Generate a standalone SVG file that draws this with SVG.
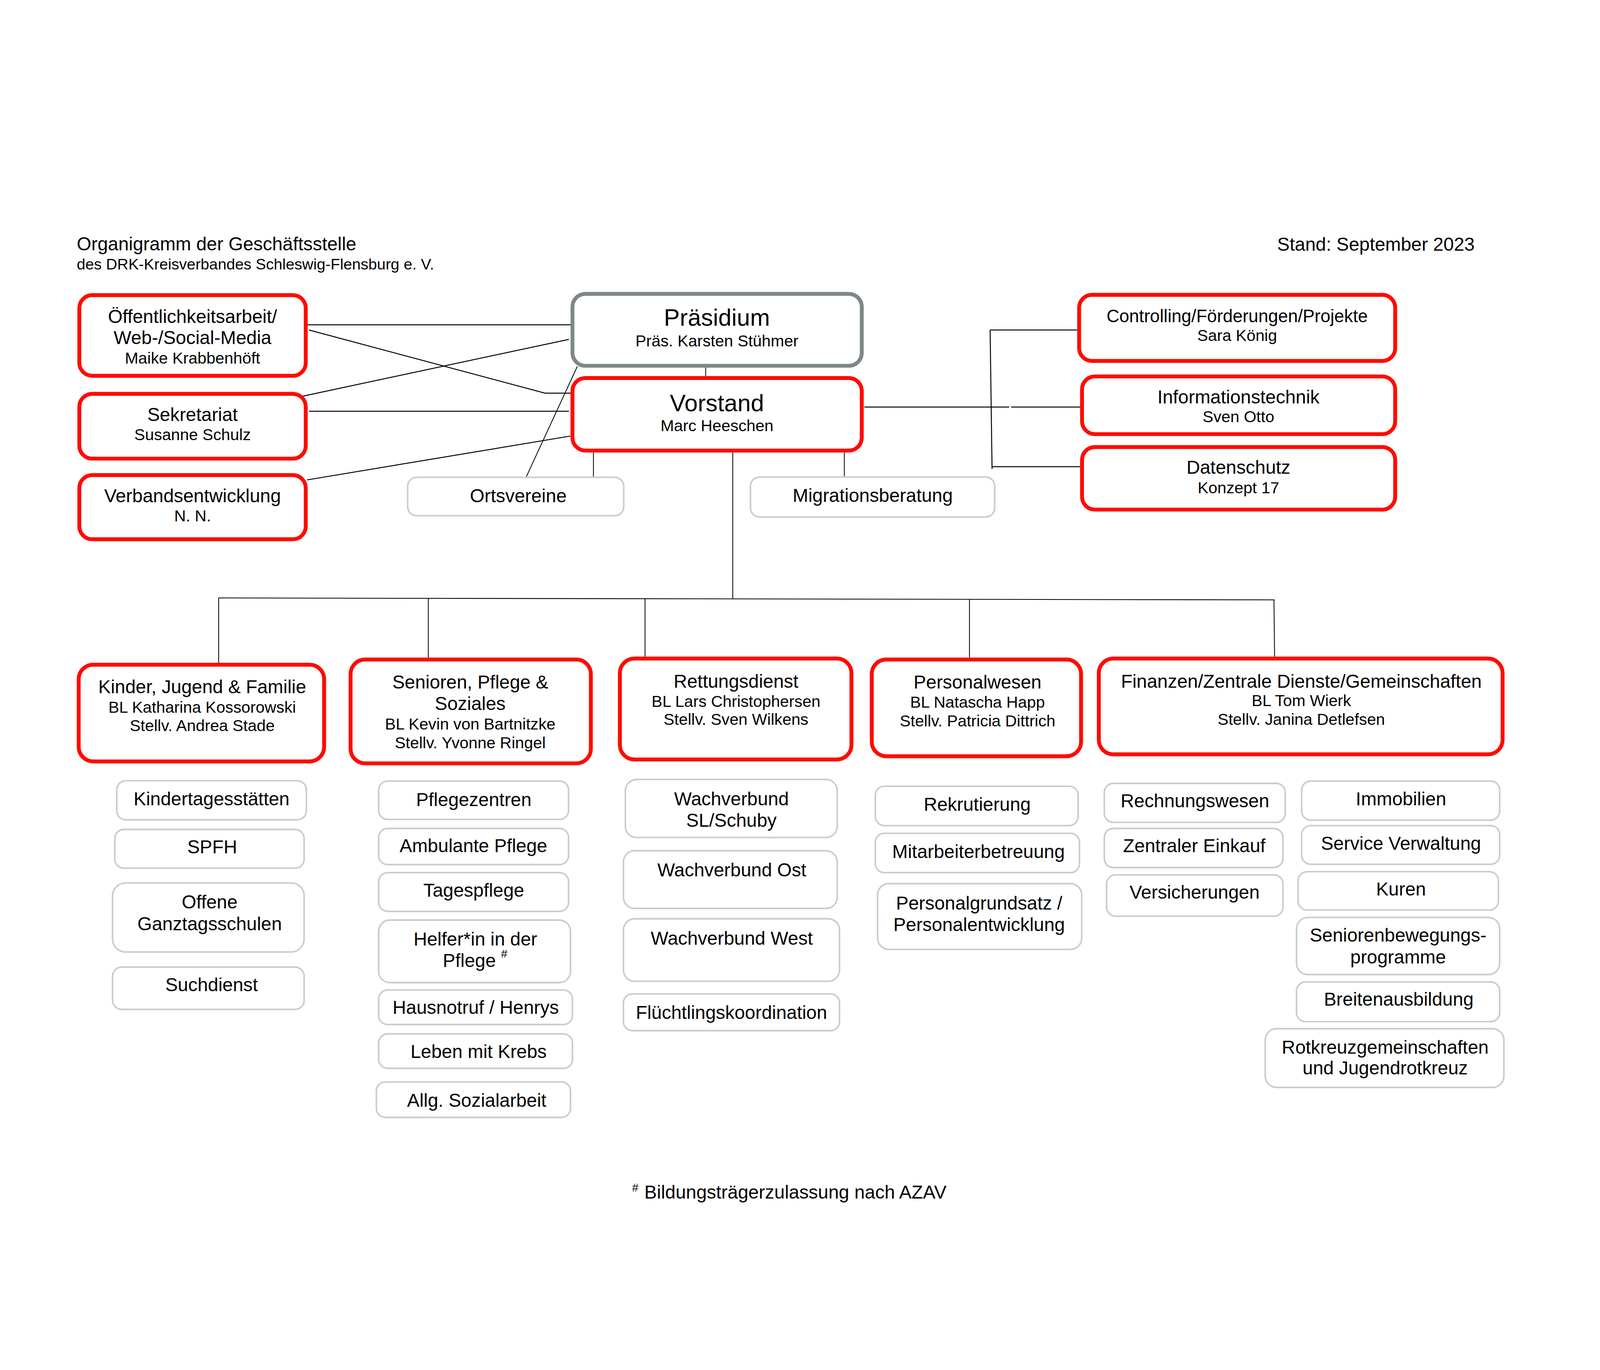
<svg xmlns="http://www.w3.org/2000/svg" width="4961" height="3508" viewBox="0 0 4961 3508">
<style>
svg{width:100vw;height:100vh}
text{font-family:"Liberation Sans",Arial,sans-serif;fill:#000}
.t{font-size:58px;text-anchor:middle}
.s{font-size:50px;text-anchor:middle}
.b{font-size:74px;text-anchor:middle}
.red{fill:#fff;stroke:#ff0a00;stroke-width:12}
.gry{fill:#fff;stroke:#7e8785;stroke-width:12}
.sub{fill:#fff;stroke:#c7cfcc;stroke-width:5}
.c{fill:none;stroke:#000;stroke-width:3}
.d{fill:none;stroke:#000;stroke-width:2.5}
</style>
<rect width="4961" height="3508" fill="#fff"/>
<g id="header">
<text x="238" y="406" style="font-size:58px">Organigramm der Geschäftsstelle</text>
<text x="238" y="465" style="font-size:48px">des DRK-Kreisverbandes Schleswig-Flensburg e. V.</text>
<text x="3960" y="407" style="font-size:58px">Stand: September 2023</text>
</g>
<g id="connectors">
<path class="c" d="M952,637 H1773"/>
<path class="c" d="M958,653 L1690,849 H1770"/>
<path class="c" d="M940,858 L1764,682"/>
<path class="c" d="M958,905 H1764"/>
<path class="c" d="M952,1118 L1768,982"/>
<path class="d" d="M1632,1108 L1790,766"/>
<path class="d" d="M2188,765 V801"/>
<path class="d" d="M1840,1033 V1108"/>
<path class="d" d="M2618,1033 V1107"/>
<path class="c" d="M2680,892 H3129 M3135,892 H3349"/>
<path class="c" d="M3070,653 L3076,1084 M3070,653 H3340 M3076,1077 H3349"/>
<path class="d" d="M2272,1033 V1487"/>
<path class="d" d="M677,1484 L3952,1490"/>
<path class="d" d="M678,1484 V1685 M1328,1485 V1669 M2000,1486 V1666 M3006,1488 V1669 M3950,1490 L3952,1666"/>
</g>
<g id="oeffentlichkeitsarbeit">
<rect class="red" x="246" y="545" width="702" height="250" rx="40"/>
<text class="t" x="597" y="631">Öffentlichkeitsarbeit/</text>
<text class="t" x="597" y="697">Web-/Social-Media</text>
<text class="s" x="597" y="757">Maike Krabbenhöft</text>
</g>
<g id="sekretariat">
<rect class="red" x="246" y="851" width="702" height="201" rx="40"/>
<text class="t" x="597" y="935">Sekretariat</text>
<text class="s" x="597" y="995">Susanne Schulz</text>
</g>
<g id="verbandsentwicklung">
<rect class="red" x="246" y="1103" width="702" height="199" rx="40"/>
<text class="t" x="597" y="1187">Verbandsentwicklung</text>
<text class="s" x="597" y="1246">N. N.</text>
</g>
<g id="praesidium">
<rect class="gry" x="1775" y="541" width="897" height="223" rx="40"/>
<text class="b" x="2223" y="640">Präsidium</text>
<text class="s" x="2223" y="704">Präs. Karsten Stühmer</text>
</g>
<g id="vorstand">
<rect class="red" x="1775" y="802" width="897" height="225" rx="40"/>
<text class="b" x="2223" y="905">Vorstand</text>
<text class="s" x="2223" y="967">Marc Heeschen</text>
</g>
<g id="ortsvereine">
<rect class="sub" x="1264" y="1110" width="670" height="119" rx="28"/>
<text class="t" x="1607" y="1187">Ortsvereine</text>
</g>
<g id="migrationsberatung">
<rect class="sub" x="2327" y="1109" width="757" height="124" rx="28"/>
<text class="t" x="2706" y="1186">Migrationsberatung</text>
</g>
<g id="controlling">
<rect class="red" x="3346" y="544" width="980" height="205" rx="40"/>
<text class="t" x="3836" y="629" style="font-size:55px">Controlling/Förderungen/Projekte</text>
<text class="s" x="3836" y="687">Sara König</text>
</g>
<g id="informationstechnik">
<rect class="red" x="3355" y="797" width="971" height="179" rx="40"/>
<text class="t" x="3840" y="881">Informationstechnik</text>
<text class="s" x="3840" y="939">Sven Otto</text>
</g>
<g id="datenschutz">
<rect class="red" x="3355" y="1016" width="971" height="194" rx="40"/>
<text class="t" x="3840" y="1099">Datenschutz</text>
<text class="s" x="3840" y="1159">Konzept 17</text>
</g>
<g id="kinder">
<rect class="red" x="244" y="1691" width="761" height="300" rx="45"/>
<text class="t" x="627" y="1780">Kinder, Jugend &amp; Familie</text>
<text class="s" x="627" y="1840">BL Katharina Kossorowski</text>
<text class="s" x="627" y="1897">Stellv. Andrea Stade</text>
</g>
<g id="senioren">
<rect class="red" x="1087" y="1675" width="745" height="322" rx="45"/>
<text class="t" x="1458" y="1765">Senioren, Pflege &amp;</text>
<text class="t" x="1458" y="1832">Soziales</text>
<text class="s" x="1458" y="1892">BL Kevin von Bartnitzke</text>
<text class="s" x="1458" y="1950">Stellv. Yvonne Ringel</text>
</g>
<g id="rettungsdienst">
<rect class="red" x="1922" y="1672" width="718" height="313" rx="45"/>
<text class="t" x="2282" y="1763">Rettungsdienst</text>
<text class="s" x="2282" y="1822">BL Lars Christophersen</text>
<text class="s" x="2282" y="1878">Stellv. Sven Wilkens</text>
</g>
<g id="personalwesen">
<rect class="red" x="2703" y="1675" width="649" height="300" rx="45"/>
<text class="t" x="3031" y="1765">Personalwesen</text>
<text class="s" x="3031" y="1824">BL Natascha Happ</text>
<text class="s" x="3031" y="1882">Stellv. Patricia Dittrich</text>
</g>
<g id="finanzen">
<rect class="red" x="3407" y="1672" width="1252" height="297" rx="45"/>
<text class="t" x="4035" y="1762">Finanzen/Zentrale Dienste/Gemeinschaften</text>
<text class="s" x="4035" y="1820">BL Tom Wierk</text>
<text class="s" x="4035" y="1878">Stellv. Janina Detlefsen</text>
</g>
<g id="kindertagesstaetten"><rect class="sub" x="362" y="2051" width="588" height="121" rx="28"/><text class="t" x="656" y="2127">Kindertagesstätten</text></g>
<g id="spfh"><rect class="sub" x="356" y="2202" width="587" height="120" rx="28"/><text class="t" x="658" y="2276">SPFH</text></g>
<g id="ganztagsschulen"><rect class="sub" x="349" y="2368" width="594" height="214" rx="40"/><text class="t" x="650" y="2447">Offene</text><text class="t" x="650" y="2515">Ganztagsschulen</text></g>
<g id="suchdienst"><rect class="sub" x="349" y="2629" width="594" height="131" rx="28"/><text class="t" x="656" y="2704">Suchdienst</text></g>
<g id="pflegezentren"><rect class="sub" x="1174" y="2052" width="589" height="119" rx="28"/><text class="t" x="1469" y="2129">Pflegezentren</text></g>
<g id="ambulante"><rect class="sub" x="1174" y="2199" width="589" height="112" rx="28"/><text class="t" x="1468" y="2272">Ambulante Pflege</text></g>
<g id="tagespflege"><rect class="sub" x="1174" y="2336" width="589" height="120" rx="28"/><text class="t" x="1469" y="2411">Tagespflege</text></g>
<g id="helfer"><rect class="sub" x="1174" y="2483" width="595" height="194" rx="35"/><text class="t" x="1474" y="2562">Helfer*in in der</text><text class="t" x="1473" y="2629">Pflege <tspan style="font-size:35px" dy="-30">#</tspan></text></g>
<g id="hausnotruf"><rect class="sub" x="1174" y="2700" width="601" height="107" rx="28"/><text class="t" x="1475" y="2774">Hausnotruf / Henrys</text></g>
<g id="krebs"><rect class="sub" x="1174" y="2836" width="601" height="107" rx="28"/><text class="t" x="1484" y="2911">Leben mit Krebs</text></g>
<g id="sozialarbeit"><rect class="sub" x="1167" y="2985" width="602" height="110" rx="28"/><text class="t" x="1478" y="3062">Allg. Sozialarbeit</text></g>
<g id="wv-sl"><rect class="sub" x="1939" y="2047" width="657" height="180" rx="35"/><text class="t" x="2268" y="2127">Wachverbund</text><text class="t" x="2268" y="2194">SL/Schuby</text></g>
<g id="wv-ost"><rect class="sub" x="1933" y="2268" width="663" height="179" rx="35"/><text class="t" x="2269" y="2348">Wachverbund Ost</text></g>
<g id="wv-west"><rect class="sub" x="1933" y="2479" width="670" height="194" rx="35"/><text class="t" x="2269" y="2559">Wachverbund West</text></g>
<g id="fluechtling"><rect class="sub" x="1933" y="2712" width="670" height="114" rx="28"/><text class="t" x="2268" y="2789">Flüchtlingskoordination</text></g>
<g id="rekrutierung"><rect class="sub" x="2714" y="2068" width="629" height="122" rx="28"/><text class="t" x="3030" y="2144">Rekrutierung</text></g>
<g id="mitarbeiter"><rect class="sub" x="2714" y="2214" width="633" height="122" rx="28"/><text class="t" x="3034" y="2290">Mitarbeiterbetreuung</text></g>
<g id="personalgrundsatz"><rect class="sub" x="2721" y="2370" width="633" height="204" rx="35"/><text class="t" x="3036" y="2450">Personalgrundsatz /</text><text class="t" x="3036" y="2517">Personalentwicklung</text></g>
<g id="rechnungswesen"><rect class="sub" x="3424" y="2059" width="561" height="121" rx="28"/><text class="t" x="3705" y="2133">Rechnungswesen</text></g>
<g id="einkauf"><rect class="sub" x="3424" y="2199" width="554" height="121" rx="28"/><text class="t" x="3703" y="2272">Zentraler Einkauf</text></g>
<g id="versicherungen"><rect class="sub" x="3431" y="2343" width="547" height="128" rx="28"/><text class="t" x="3704" y="2416">Versicherungen</text></g>
<g id="immobilien"><rect class="sub" x="4036" y="2052" width="614" height="121" rx="28"/><text class="t" x="4344" y="2127">Immobilien</text></g>
<g id="service"><rect class="sub" x="4036" y="2190" width="614" height="120" rx="28"/><text class="t" x="4344" y="2265">Service Verwaltung</text></g>
<g id="kuren"><rect class="sub" x="4025" y="2333" width="621" height="119" rx="28"/><text class="t" x="4344" y="2407">Kuren</text></g>
<g id="seniorenbewegung"><rect class="sub" x="4020" y="2475" width="630" height="177" rx="35"/><text class="t" x="4335" y="2550">Seniorenbewegungs-</text><text class="t" x="4335" y="2618">programme</text></g>
<g id="breitenausbildung"><rect class="sub" x="4020" y="2675" width="630" height="123" rx="28"/><text class="t" x="4337" y="2749">Breitenausbildung</text></g>
<g id="rotkreuz"><rect class="sub" x="3923" y="2820" width="740" height="182" rx="35"/><text class="t" x="4295" y="2897">Rotkreuzgemeinschaften</text><text class="t" x="4295" y="2962">und Jugendrotkreuz</text></g>
<g id="footnote">
<text x="1960" y="3325" style="font-size:35px">#</text>
<text x="1998" y="3347" style="font-size:58px">Bildungsträgerzulassung nach AZAV</text>
</g>
</svg>
